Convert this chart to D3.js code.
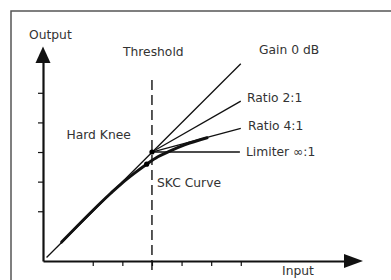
<!DOCTYPE html>
<html>
<head>
<meta charset="utf-8">
<script src="https://cdn.jsdelivr.net/npm/d3@7"></script>
<style>
  body { margin: 0; background: #fff; }
  text { font-family: "DejaVu Sans", sans-serif; font-size: 12.3px; fill: #333; }
</style>
</head>
<body>
<div id="chart"></div>
<script>
// values in dB, threshold at 0
var xTicks = [-20, -10, 0, 10, 20, 30];
var yTicks = [-20, -10, 0, 10, 20];
var gainLine = [[-35.6, -35.6], [30, 29.8]];
var ratio21 = [[0, 0], [30, 17.2]];
var ratio41 = [[0, 0], [30, 8.0]];
var limiter = [[0, 0], [29.7, 0]];
var skcCurve = [[-30.5, -30.4], [-14, -14], [-10, -10.4], [-6, -7.2], [-1.8, -4.1], [2, -1.6], [6, 0.3], [11, 2.4], [18.6, 4.8]];
var kneeDots = [[0, 0], [-1.8, -4.1]];
var threshold = 0;

var width = 391, height = 280;

var svg = d3.select("#chart").append("svg")
  .attr("width", width)
  .attr("height", height);

// frame (cropped at right and bottom)
svg.append("rect")
  .attr("x", 11).attr("y", 11)
  .attr("width", 392).attr("height", 290)
  .attr("fill", "none")
  .attr("stroke", "#555")
  .attr("stroke-width", 1.5);

var x = d3.scaleLinear().domain([-36.8, 65.2]).range([43, 345]);
var y = d3.scaleLinear().domain([-36.8, 30.4]).range([261, 62]);

var line = d3.line()
  .x(function (d) { return x(d[0]); })
  .y(function (d) { return y(d[1]); });

// threshold dashed line
svg.append("line")
  .attr("x1", x(threshold)).attr("x2", x(threshold))
  .attr("y1", y(24.3)).attr("y2", y(-40.3))
  .attr("stroke", "#111")
  .attr("stroke-width", 1.4)
  .attr("stroke-dasharray", "10,5");

// axes
var xAxis = svg.append("g")
  .attr("transform", "translate(0," + y(-36.8) + ")")
  .call(d3.axisBottom(x).tickValues(xTicks).tickFormat("").tickSize(5).tickSizeOuter(0));
var yAxis = svg.append("g")
  .attr("transform", "translate(" + x(-36.8) + ",0)")
  .call(d3.axisLeft(y).tickValues(yTicks).tickFormat("").tickSize(5).tickSizeOuter(0));
[xAxis, yAxis].forEach(function (a) {
  a.select(".domain").attr("stroke", "#111").attr("stroke-width", 2.2);
  a.selectAll(".tick line").attr("stroke", "#111").attr("stroke-width", 1.2);
});

// arrow heads
var xEnd = x(65.2), yTop = y(30.4), x0 = x(-36.8), y0 = y(-36.8);
svg.append("path")
  .attr("d", "M" + (xEnd - 1) + "," + (y0 - 7) + "L" + (xEnd + 18) + "," + y0 + "L" + (xEnd - 1) + "," + (y0 + 7) + "Z")
  .attr("fill", "#111");
svg.append("path")
  .attr("d", "M" + (x0 - 7.5) + "," + (yTop + 1) + "L" + x0 + "," + (yTop - 15.5) + "L" + (x0 + 7.5) + "," + (yTop + 1) + "Z")
  .attr("fill", "#111");

// transfer lines
[gainLine, ratio21, ratio41, limiter].forEach(function (d) {
  svg.append("path")
    .attr("d", line(d))
    .attr("fill", "none")
    .attr("stroke", "#111")
    .attr("stroke-width", 1.3);
});

svg.append("path")
  .attr("d", line.curve(d3.curveMonotoneX)(skcCurve))
  .attr("fill", "none")
  .attr("stroke", "#111")
  .attr("stroke-width", 3)
  .attr("stroke-linecap", "round");

svg.selectAll("circle.knee")
  .data(kneeDots)
  .enter().append("circle")
  .attr("class", "knee")
  .attr("cx", function (d) { return x(d[0]); })
  .attr("cy", function (d) { return y(d[1]); })
  .attr("r", 2.6)
  .attr("fill", "#000");

// labels
var labels = [
  { t: "Output", x: 29, y: 38.5 },
  { t: "Threshold", x: 123, y: 56 },
  { t: "Gain 0 dB", x: 259, y: 53.5 },
  { t: "Ratio 2:1", x: 247, y: 101.5 },
  { t: "Ratio 4:1", x: 248, y: 129.5 },
  { t: "Limiter \u221E:1", x: 246, y: 155.5 },
  { t: "Hard Knee", x: 66.5, y: 139 },
  { t: "SKC Curve", x: 157, y: 187 },
  { t: "Input", x: 282, y: 275 }
];
svg.selectAll("text.lbl")
  .data(labels)
  .enter().append("text")
  .attr("class", "lbl")
  .attr("x", function (d) { return d.x; })
  .attr("y", function (d) { return d.y; })
  .text(function (d) { return d.t; });
</script>
</body>
</html>
